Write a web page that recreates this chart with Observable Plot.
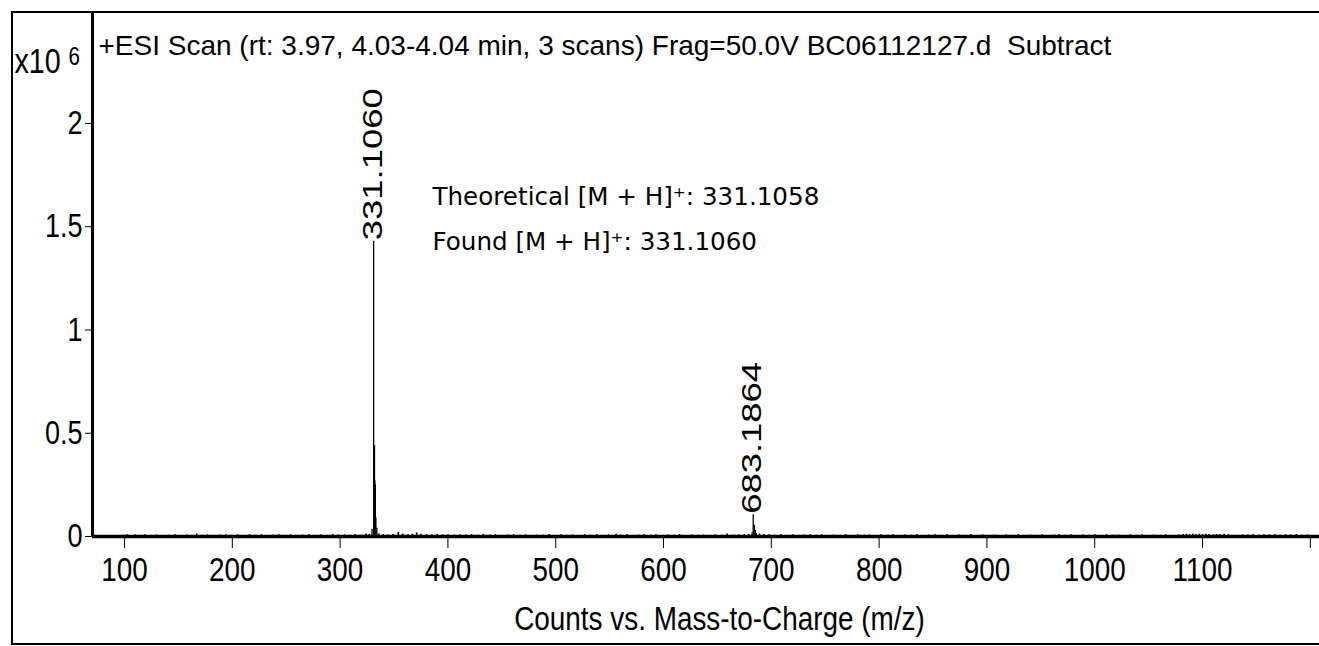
<!DOCTYPE html>
<html>
<head>
<meta charset="utf-8">
<script src="https://cdn.jsdelivr.net/npm/d3@7"></script>
<script src="https://cdn.jsdelivr.net/npm/@observablehq/plot@0.6"></script>
<style>
  html, body { margin: 0; padding: 0; background: #fff; overflow: hidden; }
  #wrap { position: relative; width: 1319px; height: 646px; }
  #box { position: absolute; left: 11px; top: 11px; width: 1330px; height: 634px; border: 2px solid #000; box-sizing: border-box; }
  #chart { position: absolute; left: 0; top: 0; }
  #chart svg { overflow: visible; }
</style>
</head>
<body>
<div id="wrap"><div id="box"></div><div id="chart"></div></div>
<script>
// ---- data (counts in units of 10^6) ----
const title = "+ESI Scan (rt: 3.97, 4.03-4.04 min, 3 scans) Frag=50.0V BC06112127.d  Subtract";
const xLabel = "Counts vs. Mass-to-Charge (m/z)";
const yScaleText = "x10";
const yScaleExp = "6";
const xTicks = [100, 200, 300, 400, 500, 600, 700, 800, 900, 1000, 1100, 1200];
const yTicks = [0, 0.5, 1, 1.5, 2];
const peakMz = [329.6, 331.106, 331.9, 332.2, 332.7, 333.2, 334.1, 682.2, 683.186, 684.2, 685.2, 686.1];
const peakCounts = [0.035, 1.43, 0.44, 0.27, 0.25, 0.09, 0.04, 0.018, 0.105, 0.055, 0.03, 0.015];
const labelMz = [331.106, 683.186];
const labelCounts = [1.43, 0.105];
const labelText = ["331.1060", "683.1864"];
const noteLines = ["Theoretical [M + H]\u207A: 331.1058", "Found [M + H]\u207A: 331.1060"];
const noise = [[98,0.006],[102,0.009],[106,0.005],[110,0.008],[114,0.006],[119,0.009],[124,0.005],[130,0.007],[136,0.004],[141,0.006],[147,0.008],[152,0.005],[158,0.007],[163,0.006],[167,0.012],[172,0.006],[177,0.008],[183,0.005],[188,0.007],[194,0.009],[199,0.006],[205,0.008],[210,0.005],[216,0.009],[221,0.006],[227,0.008],[232,0.005],[238,0.007],[243,0.009],[249,0.006],[254,0.008],[260,0.005],[265,0.007],[271,0.009],[276,0.006],[282,0.008],[287,0.005],[293,0.010],[298,0.007],[304,0.008],[309,0.006],[314,0.009],[319,0.007],[324,0.012],[327,0.010],[336,0.012],[340,0.009],[344,0.008],[349,0.010],[354,0.020],[358,0.012],[363,0.009],[367,0.011],[371,0.017],[375,0.011],[380,0.009],[385,0.008],[390,0.010],[395,0.007],[400,0.009],[406,0.006],[411,0.008],[417,0.007],[422,0.009],[428,0.006],[433,0.010],[439,0.007],[444,0.008],[450,0.005],[455,0.007],[461,0.009],[466,0.006],[472,0.008],[477,0.005],[483,0.007],[488,0.006],[494,0.009],[499,0.005],[505,0.008],[510,0.006],[516,0.007],[521,0.005],[527,0.008],[532,0.006],[538,0.009],[543,0.006],[549,0.008],[554,0.005],[556,0.011],[560,0.007],[566,0.008],[571,0.005],[577,0.007],[582,0.009],[588,0.006],[593,0.008],[599,0.005],[604,0.007],[610,0.006],[615,0.009],[621,0.005],[626,0.008],[632,0.006],[637,0.007],[643,0.005],[648,0.008],[654,0.006],[659,0.012],[665,0.007],[670,0.008],[675,0.009],[679,0.010],[689,0.012],[693,0.009],[698,0.008],[703,0.006],[709,0.009],[714,0.006],[720,0.008],[725,0.005],[731,0.007],[736,0.009],[742,0.006],[747,0.008],[753,0.005],[758,0.007],[764,0.006],[769,0.009],[775,0.005],[780,0.008],[786,0.006],[791,0.007],[797,0.005],[802,0.008],[808,0.006],[813,0.009],[819,0.005],[824,0.007],[830,0.006],[835,0.008],[841,0.005],[846,0.007],[852,0.009],[857,0.006],[863,0.008],[868,0.005],[874,0.007],[879,0.006],[885,0.009],[890,0.005],[896,0.008],[901,0.006],[907,0.007],[912,0.005],[918,0.008],[923,0.006],[929,0.009],[934,0.005],[940,0.007],[945,0.006],[951,0.008],[956,0.005],[962,0.007],[967,0.009],[973,0.006],[978,0.008],[984,0.005],[989,0.007],[995,0.006],[1000,0.009],[1006,0.005],[1011,0.008],[1017,0.006],[1022,0.007],[1028,0.005],[1033,0.008],[1039,0.006],[1044,0.009],[1050,0.005],[1055,0.007],[1061,0.006],[1066,0.008],[1072,0.005],[1078,0.007],[1082,0.010],[1085,0.011],[1088,0.010],[1091,0.012],[1094,0.010],[1097,0.011],[1100,0.009],[1103,0.011],[1106,0.010],[1110,0.008],[1113,0.010],[1116,0.009],[1120,0.011],[1124,0.009],[1132,0.006],[1137,0.008],[1142,0.007],[1147,0.009],[1152,0.006],[1157,0.008],[1162,0.007],[1167,0.009],[1172,0.006],[1177,0.008],[1182,0.007],[1187,0.009],[1192,0.006],[1197,0.007],[1202,0.005]];

// ---- tables built from the arrays ----
const peaks = peakMz.map((m, i) => ({mz: m, c: peakCounts[i]}));
const labels = labelMz.map((m, i) => ({mz: m, c: labelCounts[i], t: labelText[i]}));
const noisePts = noise.map(([m, c]) => ({mz: m, c}));

const sans = '"Liberation Sans", Arial, sans-serif';
const xMin = 70.3, xMax = 1208.5;

const chart = Plot.plot({
  width: 1319,
  height: 646,
  marginLeft: 92,
  marginTop: 12,
  marginBottom: 110,
  marginRight: 0,
  style: {fontFamily: sans, fontSize: "33px", color: "#000", background: "transparent"},
  x: {domain: [xMin, xMax]},
  y: {domain: [0, 2.537]},
  marks: [
    Plot.ruleX(noisePts, {x: "mz", y1: 0, y2: "c", stroke: "#000", strokeWidth: 1.6}),
    Plot.ruleX(peaks, {x: "mz", y1: 0, y2: "c", stroke: "#000", strokeWidth: 1.3}),
    Plot.ruleY([0], {stroke: "#000", strokeWidth: 3.5}),
    Plot.ruleX([xMin], {stroke: "#000", strokeWidth: 3}),
    Plot.axisX({ticks: xTicks, tickSize: 12, tickPadding: 8, tickFormat: d => d === 1200 ? "" : String(d), label: null, fontSize: 34, stroke: "#000", strokeWidth: 1}),
    Plot.axisY({ticks: yTicks, tickSize: 7, tickPadding: 3, tickFormat: d => String(d), label: null, fontSize: 33, stroke: "#000", strokeWidth: 1}),
    Plot.text(labels, {x: "mz", y: "c", text: "t", rotate: -90, textAnchor: "start", lineAnchor: "middle", dx: -1, dy: -1, fontSize: 28, fontFamily: sans, fill: "#000", ariaDescription: "peak-labels"}),
    Plot.text([noteLines[0]], {frameAnchor: "top-left", dx: 340, dy: 192, textAnchor: "start", lineAnchor: "bottom", fontSize: 24.6, fontFamily: '"DejaVu Sans", Verdana, sans-serif', fill: "#000"}),
    Plot.text([noteLines[1]], {frameAnchor: "top-left", dx: 340, dy: 237, textAnchor: "start", lineAnchor: "bottom", fontSize: 24.6, fontFamily: '"DejaVu Sans", Verdana, sans-serif', fill: "#000"}),
    Plot.text([title], {frameAnchor: "top-left", dx: 6, dy: 42, textAnchor: "start", lineAnchor: "bottom", fontSize: 28, fill: "#000", ariaDescription: "title"}),
    Plot.text([yScaleText], {frameAnchor: "top-left", dx: -78, dy: 60, textAnchor: "start", lineAnchor: "bottom", fontSize: 35, fill: "#000", ariaDescription: "condense"}),
    Plot.text([yScaleExp], {frameAnchor: "top-left", dx: -24, dy: 52, textAnchor: "start", lineAnchor: "bottom", fontSize: 25, fill: "#000", ariaDescription: "condense"}),
    Plot.text([xLabel], {frameAnchor: "bottom", dx: 13.5, dy: 93, textAnchor: "middle", lineAnchor: "bottom", fontSize: 34, fill: "#000", ariaDescription: "condense"})
  ]
});
document.getElementById("chart").appendChild(chart);
const root = d3.select(chart);
root.selectAll('g[aria-description="title"] text').style("white-space", "pre");
function stretch(sel, k) {
  root.selectAll(sel).each(function() {
    const w = this.getComputedTextLength();
    if (w > 0) {
      this.setAttribute("textLength", (w * k).toFixed(1));
      this.setAttribute("lengthAdjust", "spacingAndGlyphs");
    }
  });
}
// condensed (narrow) look for the axis texts, wide look for the peak labels
stretch('g[aria-label="x-axis tick label"] text, g[aria-label="y-axis tick label"] text, g[aria-description="condense"] text', 0.82);
stretch('g[aria-description="peak-labels"] text', 1.3);
</script>
</body>
</html>
